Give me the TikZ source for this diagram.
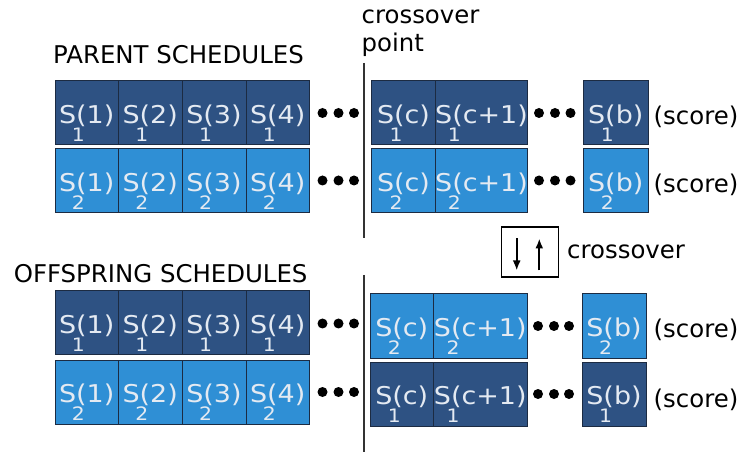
\documentclass[tikz,border=0pt]{standalone}
\usepackage{fontspec}
\setmainfont{DejaVu Sans}
\newfontfamily\cellfont[FakeStretch=1.1]{DejaVu Sans}
\usetikzlibrary{arrows.meta}
\definecolor{darkblue}{HTML}{2E5283}
\definecolor{lightblue}{HTML}{2F8FD5}
\definecolor{celledge}{HTML}{1C2B42}
\definecolor{celltext}{HTML}{E4EAF2}
\definecolor{linegray}{HTML}{333333}
\newcommand\Sx[2]{S\rlap{\kern-0.18em\raisebox{-17.8bp}{\fontsize{18.5bp}{18.5bp}\selectfont #1}}(#2)}
\newcommand\mkcell[8]{%
  \node[#1, minimum width={(#5-#3)*1bp}, minimum height={(#6-#4)*1bp}] (#2) at ({(#3+#5)/2},{(#4+#6)/2}) {\Sx{#7}{#8}};}
\begin{document}
\begin{tikzpicture}[x=1bp,y=-1bp,
  cell/.style={draw=celledge, line width=1bp, inner sep=0pt, text=celltext,
    font=\cellfont\fontsize{24.5bp}{24.5bp}\selectfont, text height=21bp, text depth=0bp},
  darkcell/.style={cell, fill=darkblue},
  lightcell/.style={cell, fill=lightblue},
  lbl/.style={inner sep=0pt, anchor=base west, text=black, font=\fontsize{24.4bp}{29bp}\selectfont},
  dotmark/.style={circle, fill=black, inner sep=0pt, minimum size=10bp},
  cpline/.style={draw=linegray, line width=1.6bp},
  swaparrow/.style={line width=2bp, -{Latex[length=10bp,width=8bp]}}]
\useasboundingbox (0,0) rectangle (744,452);

% headings
\node[lbl] (parent) at (53,63.3) {PARENT SCHEDULES};
\node[lbl] (offspring) at (13.7,282.3) {OFFSPRING SCHEDULES};
\node[lbl] (cp1) at (361.5,23.3) {crossover};
\node[lbl] (cp2) at (361.5,52) {point};

% crossover point line
\coordinate (lt1) at (364,63);
\coordinate (lt2) at (364,238);
\coordinate (lb1) at (364,275);
\coordinate (lb2) at (364,452);
\draw[cpline] (lt1) -- (lt2);
\draw[cpline] (lb1) -- (lb2);

% parent row 1
\mkcell{darkcell}{pa1}{55}{81}{118.5}{145}{1}{1}
\mkcell{darkcell}{pa2}{118.5}{81}{182}{145}{1}{2}
\mkcell{darkcell}{pa3}{182}{81}{246}{145}{1}{3}
\mkcell{darkcell}{pa4}{246}{81}{309.5}{145}{1}{4}
\mkcell{darkcell}{pac}{371.5}{81}{435.5}{145}{1}{c}
\mkcell{darkcell}{pac1}{435.5}{81}{527.5}{145}{1}{c+1}
\mkcell{darkcell}{pab}{583.5}{81}{648}{145}{1}{b}
% parent row 2
\mkcell{lightcell}{pb1}{55}{149}{118.5}{212.5}{2}{1}
\mkcell{lightcell}{pb2}{118.5}{149}{182}{212.5}{2}{2}
\mkcell{lightcell}{pb3}{182}{149}{246}{212.5}{2}{3}
\mkcell{lightcell}{pb4}{246}{149}{309.5}{212.5}{2}{4}
\mkcell{lightcell}{pbc}{371.5}{149}{435.5}{212.5}{2}{c}
\mkcell{lightcell}{pbc1}{435.5}{149}{527.5}{212.5}{2}{c+1}
\mkcell{lightcell}{pbb}{583.5}{149}{648}{212.5}{2}{b}
% offspring row 1
\mkcell{darkcell}{oa1}{55}{291}{118.5}{354.5}{1}{1}
\mkcell{darkcell}{oa2}{118.5}{291}{182}{354.5}{1}{2}
\mkcell{darkcell}{oa3}{182}{291}{246}{354.5}{1}{3}
\mkcell{darkcell}{oa4}{246}{291}{309.5}{354.5}{1}{4}
\mkcell{lightcell}{oac}{370}{294}{433.5}{358}{2}{c}
\mkcell{lightcell}{oac1}{433.5}{294}{527}{358}{2}{c+1}
\mkcell{lightcell}{oab}{582}{294}{646}{358}{2}{b}
% offspring row 2
\mkcell{lightcell}{ob1}{55}{360}{118.5}{424}{2}{1}
\mkcell{lightcell}{ob2}{118.5}{360}{182}{424}{2}{2}
\mkcell{lightcell}{ob3}{182}{360}{246}{424}{2}{3}
\mkcell{lightcell}{ob4}{246}{360}{309.5}{424}{2}{4}
\mkcell{darkcell}{obc}{370}{362}{433.5}{426}{1}{c}
\mkcell{darkcell}{obc1}{433.5}{362}{527}{426}{1}{c+1}
\mkcell{darkcell}{obb}{582}{362}{646}{426}{1}{b}

% dots
\foreach \r/\yl/\yr/\xa/\xb/\xc in {pa/113/113/539/555/570.5, pb/180.5/180.5/539/555/570.5,
                                    oa/323.5/326/538/554/569, ob/392/394/538/554/569}{
  \node[dotmark] (\r dl1) at (322.5,\yl) {};
  \node[dotmark] (\r dl2) at (338.5,\yl) {};
  \node[dotmark] (\r dl3) at (354,\yl) {};
  \node[dotmark] (\r dr1) at (\xa,\yr) {};
  \node[dotmark] (\r dr2) at (\xb,\yr) {};
  \node[dotmark] (\r dr3) at (\xc,\yr) {};
}

% scores
\node[lbl] (sa) at (653.5,125) {(score)};
\node[lbl] (sb) at (653.5,192.5) {(score)};
\node[lbl] (sc) at (653.5,338) {(score)};
\node[lbl] (sd) at (653.5,407) {(score)};

% crossover box
\node[draw=black, line width=1.4bp, minimum width=57bp, minimum height=50bp, inner sep=0pt] (xbox) at (529.7,252) {};
\coordinate (dn1) at (516.7,238.5);
\coordinate (dn2) at (516.7,270.5);
\coordinate (up1) at (539.3,270.5);
\coordinate (up2) at (539.3,238.5);
\draw[swaparrow] (dn1) -- (dn2);
\draw[swaparrow] (up1) -- (up2);
\node[lbl] (xlabel) at (567,258.7) {crossover};
\end{tikzpicture}
\end{document}
